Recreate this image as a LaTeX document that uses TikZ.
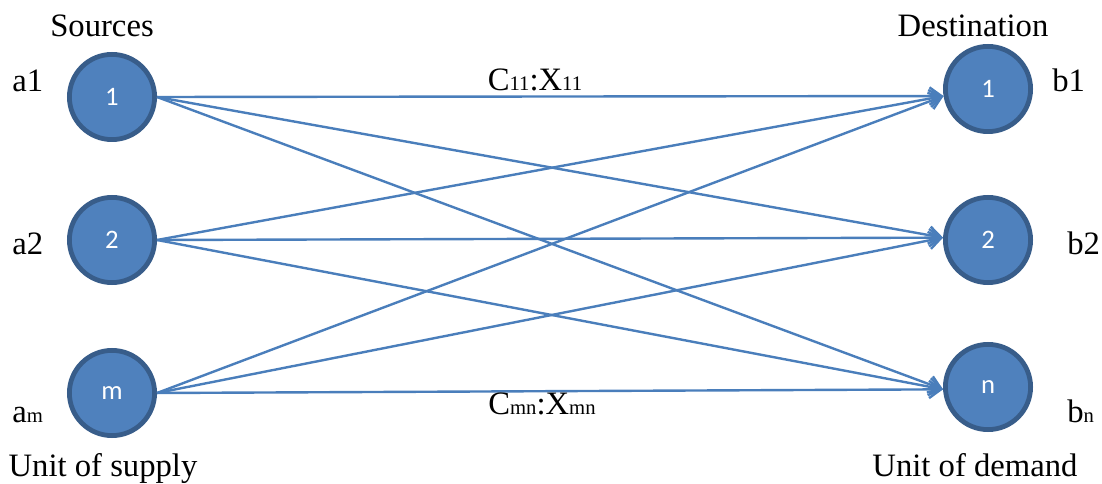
\documentclass[tikz,border=0pt]{standalone}
\usepackage{fontspec}
\setmainfont{Liberation Serif}
\newfontfamily\calib{Carlito}
\usetikzlibrary{arrows.meta}
\definecolor{nodefill}{HTML}{4F81BD}
\definecolor{nodeedge}{HTML}{385D8A}
\definecolor{edgeblue}{HTML}{4A7EBB}
\newcommand\smallsub[1]{{\fontsize{15.5}{15.5}\selectfont #1}}
\tikzset{
  circ/.style={circle, draw=nodeedge, fill=nodefill, line width=3.6pt, minimum size=63.9pt, inner sep=0pt, text=white, font=\calib\fontsize{20}{20}\selectfont},
  lbl/.style={inner sep=0pt, font=\fontsize{24.5}{24.5}\selectfont},
  flow/.style={draw=edgeblue, line width=1.8pt, -{Straight Barb[length=9pt,width=13pt,line width=1.8pt]}}
}
\begin{document}
\begin{tikzpicture}[x=0.75pt,y=-0.75pt]
\useasboundingbox (0,0) rectangle (1102,484);
% sources
\node[circ] (s1) at (112,97) {1};
\node[circ] (s2) at (112,240) {2};
\node[circ] (sm) at (112,393) {m};
% destinations
\node[circ] (d1) at (988,89) {1};
\node[circ] (d2) at (988,240) {2};
\node[circ] (dn) at (988,387) {n};
% edges
\foreach \s in {s1,s2,sm}{
  \draw[flow] (\s.east) -- (d1.189);
  \draw[flow] (\s.east) -- (d2.177);
  \draw[flow] (\s.east) -- (dn.183);
}
% labels
\node[lbl, anchor=base] (tsrc) at (102,37) {Sources};
\node[lbl, anchor=base] (tdst) at (973,37) {Destination};
\node[lbl, anchor=base west] (la1) at (12,92) {a1};
\node[lbl, anchor=base west] (la2) at (12,255) {a2};
\node[lbl, anchor=base west] (lam) at (12,422) {a\smallsub{m}};
\node[lbl, anchor=base west] (lb1) at (1052,92) {b1};
\node[lbl, anchor=base west] (lb2) at (1067,255) {b2};
\node[lbl, anchor=base west] (lbn) at (1067,422) {b\smallsub{n}};
\node[lbl, anchor=base] (tsup) at (103,476) {Unit of supply};
\node[lbl, anchor=base] (tdem) at (975,476) {Unit of demand};
\node[lbl, anchor=base] (c11) at (535,91) {C\smallsub{11}:X\smallsub{11}};
\node[lbl, anchor=base] (cmn) at (542,414) {C\smallsub{mn}:X\smallsub{mn}};
\end{tikzpicture}
\end{document}
